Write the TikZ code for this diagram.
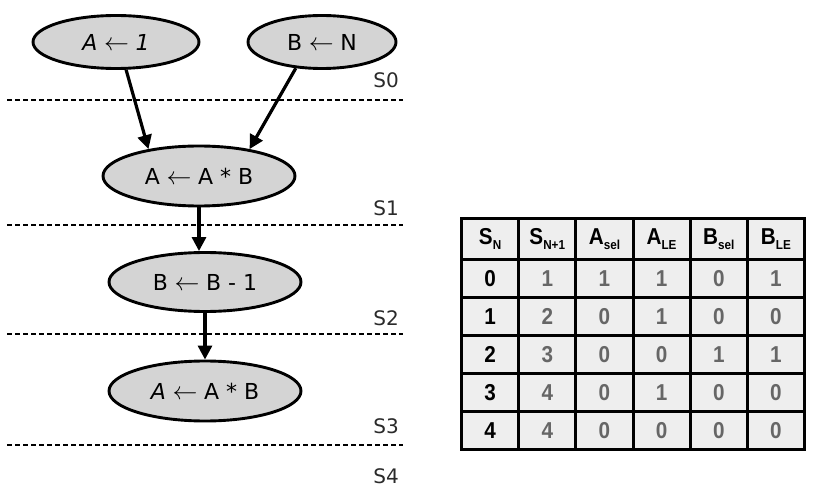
\documentclass[tikz,border=0pt]{standalone}
\usepackage{fontspec}
\setmainfont{DejaVu Sans}
\newfontfamily\tabfont[FakeStretch=0.9]{Liberation Sans}
\usepackage{tikz}
\usetikzlibrary{shapes.geometric,matrix,arrows.meta,positioning}

\definecolor{ellgray}{HTML}{D4D4D4}
\definecolor{cellgray}{HTML}{EEEEEE}
\definecolor{valgray}{HTML}{666666}
\definecolor{labdark}{HTML}{2A2A2A}

\newcommand{\lo}[1]{\raisebox{-0.35ex}{\fontsize{13}{13}\selectfont #1}}
\newcommand{\getsarr}{\hspace{0.3em}{\fontsize{25}{25}\selectfont$\leftarrow$}\hspace{0.3em}}

\begin{document}
\begin{tikzpicture}[
  x=1pt, y=-1pt,
  arr/.style={-{Triangle[length=14pt,width=14pt]}, line width=3.2pt},
  state/.style={draw, ellipse, line width=2.9pt, fill=ellgray, inner sep=0pt, font=\fontsize{22}{22}\selectfont},
  slab/.style={anchor=east, text=labdark, inner sep=0pt, font=\fontsize{20}{20}\selectfont},
  cut/.style={dash pattern=on 5pt off 3pt, line width=1.5pt},
  cell/.style={draw, line width=3pt, fill=cellgray, minimum width=57.17pt, minimum height=38pt, inner sep=0pt, outer sep=0pt, text=valgray, font=\fontsize{23}{23}\selectfont\tabfont\bfseries},
]
\useasboundingbox (0,0) rectangle (819,489);

% state boundaries
\foreach \y in {100,225,334,445}
  \draw[cut] (7,\y) -- (403,\y);

\node[slab] (s0) at (399,80)  {S0};
\node[slab] (s1) at (399,208) {S1};
\node[slab] (s2) at (399,318) {S2};
\node[slab] (s3) at (399,426) {S3};
\node[slab] (s4) at (399,476) {S4};

% operations
\node[state, minimum width=166pt, minimum height=53pt] (A1) at (116,42) {\itshape A\getsarr 1};
\node[state, minimum width=148pt, minimum height=53pt] (BN) at (322,42) {B\getsarr N};
\node[state, minimum width=192pt, minimum height=60pt] (M1) at (199,176) {A\getsarr A * B};
\node[state, minimum width=192pt, minimum height=59pt] (D1) at (205,282) {B\getsarr B - 1};
\node[state, minimum width=192pt, minimum height=60pt] (M2) at (205,391) {{\itshape A}\getsarr A * B};

\draw[arr] (A1.-70) -- (M1.152);
\draw[arr] (BN.225) -- (M1.28);
\draw[arr] (M1.south) -- (M1.south |- D1.north);
\draw[arr] (D1.south) -- (D1.south |- M2.north);

% control table
\matrix (tab) [matrix of nodes, anchor=north west, inner sep=0pt, outer sep=0pt,
  column sep=-3pt, row sep=-3pt, nodes={cell},
  row 1/.style={nodes={minimum height=41pt, text=black}},
  column 1/.style={nodes={text=black}}] at (460,217) {
  S\lo{N} & S\lo{N+1} & A\lo{sel} & A\lo{LE} & B\lo{sel} & B\lo{LE} \\
  0 & 1 & 1 & 1 & 0 & 1 \\
  1 & 2 & 0 & 1 & 0 & 0 \\
  2 & 3 & 0 & 0 & 1 & 1 \\
  3 & 4 & 0 & 1 & 0 & 0 \\
  4 & 4 & 0 & 0 & 0 & 0 \\
};

\end{tikzpicture}
\end{document}
